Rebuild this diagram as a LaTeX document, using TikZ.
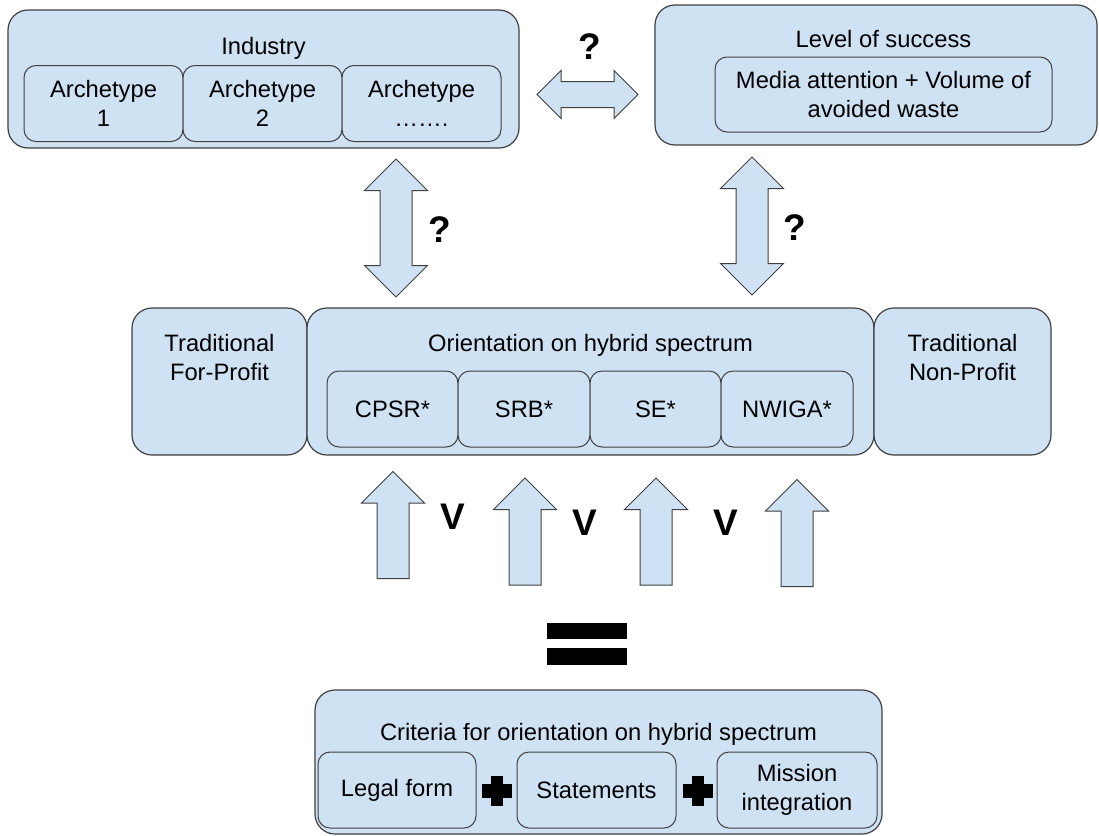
\documentclass[tikz,border=0pt]{standalone}
\usepackage{fontspec}
\setmainfont{Liberation Sans}
\usetikzlibrary{shapes.arrows,positioning}
\definecolor{paleblue}{RGB}{207,226,243}
\definecolor{darkline}{RGB}{64,64,64}
\tikzstyle{group} = [rectangle, draw=darkline, fill=paleblue, line width=1.2pt,
    rounded corners=20pt, inner sep=0pt, outer sep=0pt]
\tikzstyle{block} = [rectangle, draw=darkline, fill=paleblue, line width=1pt,
    rounded corners=12pt, align=center, inner sep=0pt, outer sep=0pt, minimum height=76pt]
\tikzstyle{heading} = [align=center, inner sep=0pt]
\tikzstyle{sign} = [font=\fontsize{37}{40}\selectfont\bfseries, inner sep=0pt]
\tikzstyle{updown} = [double arrow, draw=darkline, fill=paleblue, line width=1pt,
    shape border rotate=90, minimum height=138pt, minimum width=62pt,
    double arrow head extend=15.5pt, inner sep=15.5pt]
\tikzstyle{uparrow} = [single arrow, draw=darkline, fill=paleblue, line width=1pt,
    shape border rotate=90, minimum height=107pt, minimum width=62pt,
    single arrow head extend=15.5pt, inner sep=15.5pt]

\begin{document}
\begin{tikzpicture}[x=1pt, y=-1pt, font=\fontsize{23.75}{28.5}\selectfont]
    \useasboundingbox (0,0) rectangle (1099,835);
    % Top row
    \node [group, minimum width=511pt, minimum height=138pt] (industry) at (263.5,79) {};
    \node [heading, below=27pt of industry.north] (industryT) {Industry};
    \node [block, minimum width=159pt] (arch1) at (103.5,103.5) {Archetype\\1};
    \node [block, minimum width=159pt, right=0pt of arch1] (arch2) {Archetype\\2};
    \node [block, minimum width=159pt, right=0pt of arch2] (arch3) {Archetype\\…….};
    \node [group, minimum width=442pt, minimum height=140pt] (success) at (876,75) {};
    \node [block, minimum width=337pt, minimum height=75pt] (media) at (883.5,94.5)
        {Media attention + Volume of\\avoided waste};
    \node [heading, above=9pt of media] (successT) {Level of success};
    % Relations
    \node [updown, shape border rotate=0, minimum height=101pt, minimum width=47pt,
        double arrow head extend=11pt, inner sep=12.5pt] (link) at (587.5,94.5) {};
    \node [sign] (q1) at (590,47) {?};
    \node [updown] (left) at (396,228) {};
    \node [sign] (q2) at (440,230) {?};
    \node [updown] (right) at (752,226) {};
    \node [sign] (q3) at (795,228) {?};
    % Hybrid spectrum
    \node [group, minimum width=175pt, minimum height=147pt] (forprofit) at (219.5,381.5) {};
    \node [group, minimum width=567pt, minimum height=147pt, right=0pt of forprofit] (hybrid) {};
    \node [group, minimum width=177pt, minimum height=147pt, right=0pt of hybrid] (nonprofit) {};
    \node [heading, below=26.5pt of forprofit.north] (forprofitT) {Traditional\\For-Profit};
    \node [heading, below=26.5pt of hybrid.north] (hybridT) {Orientation on hybrid spectrum};
    \node [heading, below=26.5pt of nonprofit.north] (nonprofitT) {Traditional\\Non-Profit};
    \node [block, minimum width=131pt] (cpsr) at (392.5,409) {CPSR*};
    \node [block, minimum width=132pt, right=0pt of cpsr] (srb) {SRB*};
    \node [block, minimum width=131pt, right=0pt of srb] (se) {SE*};
    \node [block, minimum width=132pt, right=0pt of se] (nwiga) {NWIGA*};
    % Criteria arrows
    \node [uparrow] (up1) at (393,533) {};
    \node [uparrow] (up2) at (525,539.5) {};
    \node [uparrow] (up3) at (656,539.5) {};
    \node [uparrow] (up4) at (797,541) {};
    \node [sign] (or1) at (453,517) {V};
    \node [sign] (or2) at (585,523) {V};
    \node [sign] (or3) at (726,523) {V};
    \fill (547,623) rectangle (627,639);
    \fill (547,648) rectangle (627,665);
    % Criteria
    \node [group, minimum width=567pt, minimum height=144pt] (criteria) at (598.5,762) {};
    \node [heading, below=33pt of criteria.north] (criteriaT) {Criteria for orientation on hybrid spectrum};
    \node [block, minimum width=158pt] (legal) at (397,790) {Legal form};
    \node [block, minimum width=159pt, right=41pt of legal] (statements) {Statements};
    \node [block, minimum width=160pt, right=41pt of statements] (mission) {Mission\\integration};
    \foreach \cx in {497,698} {
        \fill (\cx-15,784) rectangle (\cx+15,798);
        \fill (\cx-6,776) rectangle (\cx+6,806);
    }
\end{tikzpicture}
\end{document}
